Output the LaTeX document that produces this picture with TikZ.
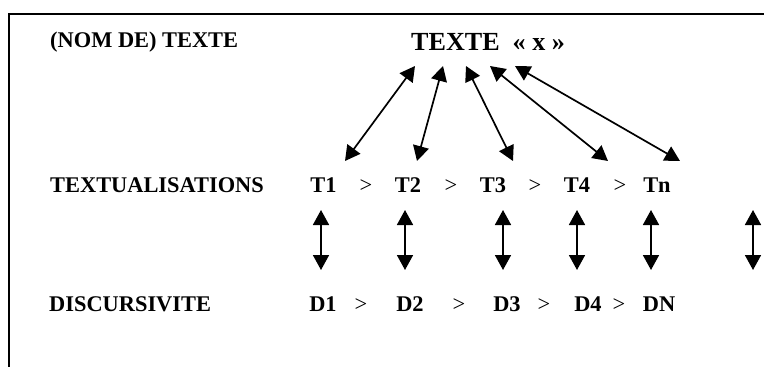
\documentclass[tikz,border=0pt]{standalone}
\usepackage{fontspec}
\setmainfont{Liberation Serif}
\usetikzlibrary{arrows.meta}
\def\rowT{192}
\def\rowD{311}
\def\lblSize{22.4}
\def\bigSize{26.1}
\tikzset{
	lbl/.style={anchor=base west, inner sep=0pt, font=\fontsize{\lblSize}{26}\selectfont\bfseries},
	item/.style={anchor=base, inner sep=0pt, font=\fontsize{\lblSize}{26}\selectfont\bfseries},
	sepsign/.style={anchor=base, inner sep=0pt, font=\fontsize{\lblSize}{26}\selectfont},
	link/.style={line width=1.7pt, {Triangle[width=16pt,length=15pt]}-{Triangle[width=16pt,length=15pt]}}
}
\begin{document}
\begin{tikzpicture}[x=1pt, y=-1pt]
	\useasboundingbox (0,0) rectangle (764,367);

	%frame (top and left only)
	\draw[line width=1.8pt] (9,367) -- (9,14) -- (764,14);

	%row names
	\node[lbl] (nom) at (50,47) {(NOM DE) TEXTE};
	\node[lbl, font=\fontsize{\bigSize}{30}\selectfont\bfseries] (texte) at (411,50) {TEXTE~~« x »};
	\node[lbl] (textu) at (50,\rowT) {TEXTUALISATIONS};
	\node[lbl] (disc) at (49,\rowD) {DISCURSIVITE};

	%textualisations T1 ... Tn
	\foreach \name/\x in {T1/323.5, T2/408, T3/493, T4/577, Tn/657}
		\node[item] (\name) at (\x,\rowT) {\name};
	\foreach \i/\x in {1/366, 2/451, 3/535, 4/620}
		\node[sepsign] (tsep\i) at (\x,\rowT) {>};

	%discursivite D1 ... DN
	\foreach \name/\x in {D1/323, D2/410, D3/507, D4/588, DN/659}
		\node[item] (\name) at (\x,\rowD) {\name};
	\foreach \i/\x in {1/361, 2/459, 3/544, 4/619}
		\node[sepsign] (dsep\i) at (\x,\rowD) {>};

	%arrows from the text down to the textualisations
	\foreach \i/\xa/\xb in {1/415/345, 2/443/417, 3/466/513, 4/490/608, 5/515/680} {
		\coordinate (top\i) at (\xa,66);
		\coordinate (bot\i) at (\xb,161);
		\draw[link] (top\i) -- (bot\i);
	}

	%arrows between the two rows
	\foreach \i/\x in {1/321, 2/405, 3/503, 4/577, 5/651, 6/753} {
		\coordinate (up\i) at (\x,210);
		\coordinate (dn\i) at (\x,270);
		\draw[link] (up\i) -- (dn\i);
	}

\end{tikzpicture}
\end{document}
